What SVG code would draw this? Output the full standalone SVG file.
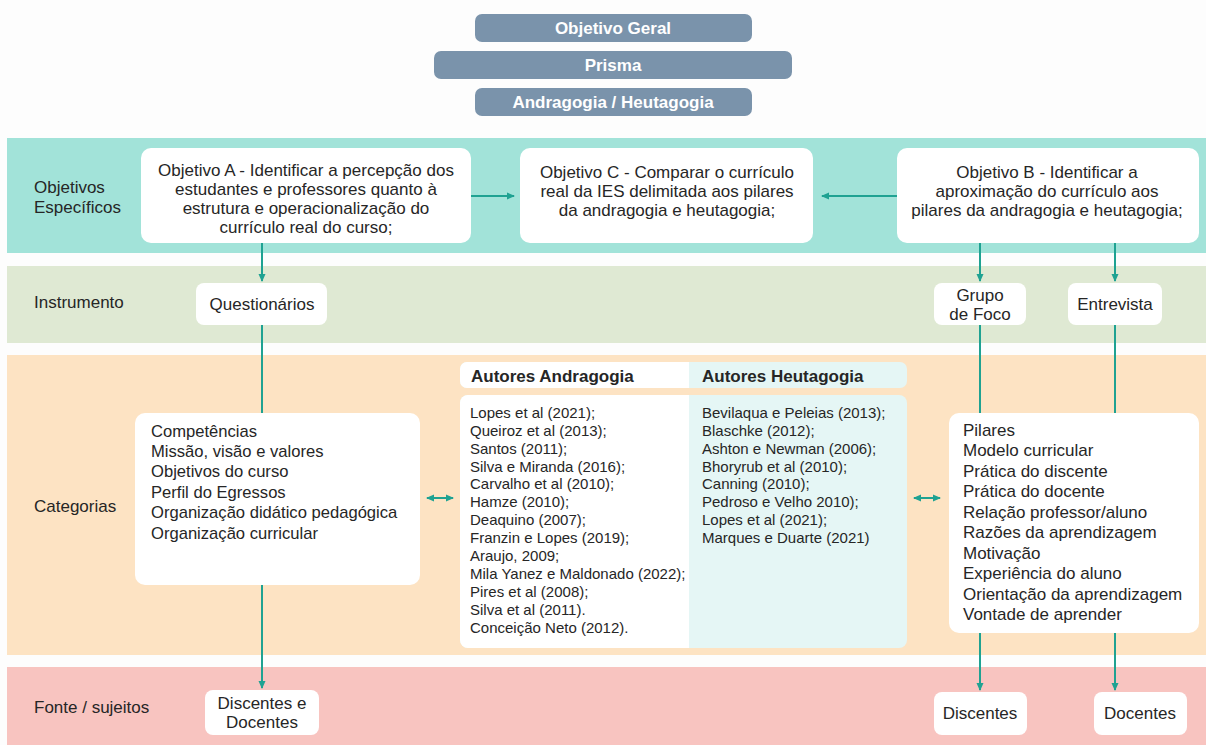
<svg xmlns="http://www.w3.org/2000/svg" width="1206" height="745" viewBox="0 0 1206 745">
<style>
text{font-family:"Liberation Sans",Arial,sans-serif;fill:#262626;}
.top{fill:#7a93ab;}
.tt{fill:#ffffff;font-weight:bold;font-size:17px;text-anchor:middle;}
.box{fill:#ffffff;}
.lbl{font-size:17px;}
.c{text-anchor:middle;font-size:17px;}
.l{font-size:16.6px;}
.r{font-size:17px;}
.s{font-size:15px;}
.h{font-size:17px;font-weight:bold;}
.con{stroke:#1fa292;stroke-width:2;fill:none;}
</style>
<defs>
<marker id="ah" markerWidth="8" markerHeight="8" refX="7" refY="4" orient="auto" markerUnits="userSpaceOnUse">
<path d="M0,0.5 L8,4 L0,7.5 Z" fill="#1fa292"/>
</marker>
<marker id="as" markerWidth="8" markerHeight="8" refX="1" refY="4" orient="auto" markerUnits="userSpaceOnUse">
<path d="M8,0.5 L0,4 L8,7.5 Z" fill="#1fa292"/>
</marker>
</defs>
<rect width="1206" height="745" fill="#fdfdfd"/>
<!-- bands -->
<rect x="7" y="138" width="1199" height="115" fill="#a2e3d9"/>
<rect x="7" y="266" width="1199" height="77" fill="#dfe9d3"/>
<rect x="7" y="355" width="1199" height="300" fill="#fde3c3"/>
<rect x="7" y="667" width="1199" height="78" fill="#f8c4c0"/>
<text class="lbl" x="34" y="193">Objetivos</text>
<text class="lbl" x="34" y="213">Específicos</text>
<text class="lbl" x="34" y="308">Instrumento</text>
<text class="lbl" x="34" y="512">Categorias</text>
<text class="lbl" x="34" y="713">Fonte / sujeitos</text>

<g id="top-geral"><rect class="top" x="475" y="14" width="277" height="28" rx="7"/><text class="tt" x="613" y="34">Objetivo Geral</text></g>
<g id="top-prisma"><rect class="top" x="434" y="51" width="358" height="28" rx="7"/><text class="tt" x="613" y="71">Prisma</text></g>
<g id="top-andragogia"><rect class="top" x="475" y="88" width="277" height="28" rx="7"/><text class="tt" x="613" y="108">Andragogia / Heutagogia</text></g>

<g id="connectors">
<line class="con" x1="471" y1="196" x2="514" y2="196" marker-end="url(#ah)"/>
<line class="con" x1="897" y1="196" x2="822" y2="196" marker-end="url(#ah)"/>
<line class="con" x1="262" y1="243" x2="262" y2="281" marker-end="url(#ah)"/>
<line class="con" x1="980" y1="243" x2="980" y2="281" marker-end="url(#ah)"/>
<line class="con" x1="1115" y1="243" x2="1115" y2="281" marker-end="url(#ah)"/>
<line class="con" x1="262" y1="325" x2="262" y2="413"/>
<line class="con" x1="980" y1="325" x2="980" y2="413"/>
<line class="con" x1="1115" y1="325" x2="1115" y2="413"/>
<line class="con" x1="262" y1="585" x2="262" y2="688" marker-end="url(#ah)"/>
<line class="con" x1="980" y1="633" x2="980" y2="690" marker-end="url(#ah)"/>
<line class="con" x1="1115" y1="633" x2="1115" y2="690" marker-end="url(#ah)"/>
<line class="con" x1="427" y1="498" x2="453" y2="498" marker-start="url(#as)" marker-end="url(#ah)"/>
<line class="con" x1="914" y1="498" x2="940" y2="498" marker-start="url(#as)" marker-end="url(#ah)"/>
</g>

<g id="obj-a"><rect class="box" x="141" y="148" width="330" height="95" rx="10"/>
<text class="c" x="306" y="176">Objetivo A - Identificar a percepção dos</text>
<text class="c" x="306" y="195">estudantes e professores quanto à</text>
<text class="c" x="306" y="214">estrutura e operacionalização do</text>
<text class="c" x="306" y="233">currículo real do curso;</text></g>
<g id="obj-c"><rect class="box" x="520" y="148" width="293" height="95" rx="10"/>
<text class="c" x="667" y="178">Objetivo C - Comparar o currículo</text>
<text class="c" x="667" y="197">real da IES delimitada aos pilares</text>
<text class="c" x="667" y="216">da andragogia e heutagogia;</text></g>
<g id="obj-b"><rect class="box" x="897" y="148" width="302" height="95" rx="10"/>
<text class="c" x="1047" y="178">Objetivo B - Identificar a</text>
<text class="c" x="1047" y="197">aproximação do currículo aos</text>
<text class="c" x="1047" y="216">pilares da andragogia e heutagogia;</text></g>

<g id="questionarios"><rect class="box" x="196" y="283" width="131" height="42" rx="8"/><text class="c" x="262" y="310">Questionários</text></g>
<g id="grupo-foco"><rect class="box" x="934" y="283" width="92" height="42" rx="8"/><text class="c" x="980" y="301">Grupo</text><text class="c" x="980" y="320">de Foco</text></g>
<g id="entrevista"><rect class="box" x="1068" y="283" width="94" height="42" rx="8"/><text class="c" x="1115" y="310">Entrevista</text></g>

<g id="categorias-a"><rect class="box" x="135" y="413" width="285" height="172" rx="10"/>
<text class="l" x="151" y="437">Competências</text>
<text class="l" x="151" y="457">Missão, visão e valores</text>
<text class="l" x="151" y="477">Objetivos do curso</text>
<text class="l" x="151" y="498">Perfil do Egressos</text>
<text class="l" x="151" y="518">Organização didático pedagógica</text>
<text class="l" x="151" y="539">Organização curricular</text></g>

<g id="autores">
<rect x="460" y="362" width="447" height="26" rx="7" fill="#e5f6f5"/>
<path d="M467,362 H689 V388 H467 A7,7 0 0 1 460,381 V369 A7,7 0 0 1 467,362 Z" fill="#ffffff"/>
<text class="h" x="471" y="382">Autores Andragogia</text>
<text class="h" x="702" y="382">Autores Heutagogia</text>
<rect x="460" y="395" width="447" height="253" rx="8" fill="#e5f6f5"/>
<path d="M468,395 H689 V648 H468 A8,8 0 0 1 460,640 V403 A8,8 0 0 1 468,395 Z" fill="#ffffff"/>
<text class="s" x="470" y="418">Lopes et al (2021);</text>
<text class="s" x="470" y="436">Queiroz et al (2013);</text>
<text class="s" x="470" y="454">Santos (2011);</text>
<text class="s" x="470" y="472">Silva e Miranda (2016);</text>
<text class="s" x="470" y="489">Carvalho et al (2010);</text>
<text class="s" x="470" y="507">Hamze (2010);</text>
<text class="s" x="470" y="525">Deaquino (2007);</text>
<text class="s" x="470" y="543">Franzin e Lopes (2019);</text>
<text class="s" x="470" y="561">Araujo, 2009;</text>
<text class="s" x="470" y="579">Mila Yanez e Maldonado (2022);</text>
<text class="s" x="470" y="597">Pires et al (2008);</text>
<text class="s" x="470" y="615">Silva et al (2011).</text>
<text class="s" x="470" y="633">Conceição Neto (2012).</text>
<text class="s" x="702" y="418">Bevilaqua e Peleias (2013);</text>
<text class="s" x="702" y="436">Blaschke (2012);</text>
<text class="s" x="702" y="454">Ashton e Newman (2006);</text>
<text class="s" x="702" y="472">Bhoryrub et al (2010);</text>
<text class="s" x="702" y="489">Canning (2010);</text>
<text class="s" x="702" y="507">Pedroso e Velho 2010);</text>
<text class="s" x="702" y="525">Lopes et al (2021);</text>
<text class="s" x="702" y="543">Marques e Duarte (2021)</text>
</g>

<g id="categorias-b"><rect class="box" x="949" y="413" width="250" height="220" rx="10"/>
<text class="r" x="963" y="436">Pilares</text>
<text class="r" x="963" y="456">Modelo curricular</text>
<text class="r" x="963" y="477">Prática do discente</text>
<text class="r" x="963" y="497">Prática do docente</text>
<text class="r" x="963" y="518">Relação professor/aluno</text>
<text class="r" x="963" y="538">Razões da aprendizagem</text>
<text class="r" x="963" y="559">Motivação</text>
<text class="r" x="963" y="579">Experiência do aluno</text>
<text class="r" x="963" y="600">Orientação da aprendizagem</text>
<text class="r" x="963" y="620">Vontade de aprender</text></g>

<g id="discentes-docentes"><rect class="box" x="205" y="690" width="114" height="45" rx="8"/><text class="c" x="262" y="709">Discentes e</text><text class="c" x="262" y="728">Docentes</text></g>
<g id="discentes"><rect class="box" x="934" y="692" width="93" height="43" rx="8"/><text class="c" x="980" y="719">Discentes</text></g>
<g id="docentes"><rect class="box" x="1094" y="692" width="93" height="43" rx="8"/><text class="c" x="1140" y="719">Docentes</text></g>
</svg>
